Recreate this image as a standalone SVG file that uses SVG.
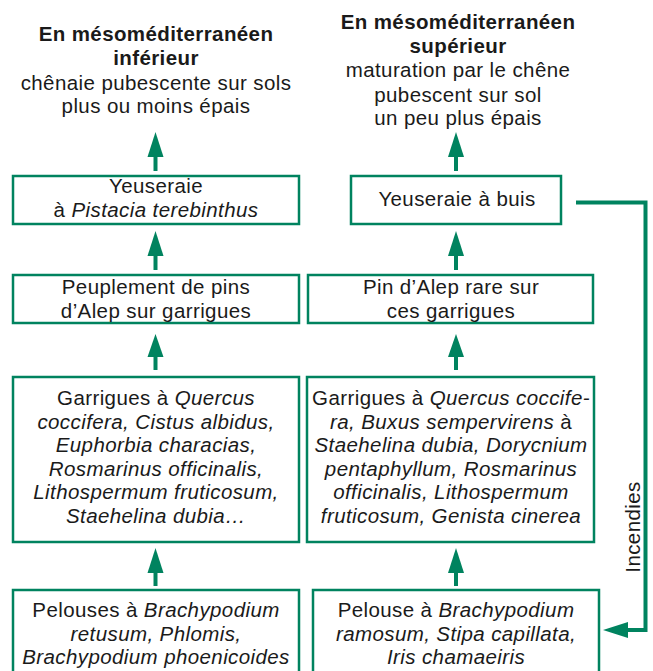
<svg xmlns="http://www.w3.org/2000/svg" width="653" height="671" viewBox="0 0 653 671">
<style>
  text { font-family: "Liberation Sans", Arial, sans-serif; font-size: 20.5px; letter-spacing: 0.4px; fill: #1a1a1a; text-anchor: middle; }
  .b { font-weight: bold; }
  .i { font-style: italic; }
  .box { fill: #ffffff; stroke: #00835f; stroke-width: 2.5; }
  .shaft { stroke: #00835f; stroke-width: 4; fill: none; }
  .head { fill: #00835f; }
  .fire { stroke: #00835f; stroke-width: 4; fill: none; }
</style>
<rect width="653" height="671" fill="#ffffff"/>

<g id="title-left">
  <text x="156" y="41" class="b">En mésoméditerranéen</text>
  <text x="156" y="65" class="b">inférieur</text>
  <text x="156" y="90">chênaie pubescente sur sols</text>
  <text x="156" y="113">plus ou moins épais</text>
</g>
<g id="title-right">
  <text x="458" y="29" class="b">En mésoméditerranéen</text>
  <text x="458" y="53" class="b">supérieur</text>
  <text x="458" y="77">maturation par le chêne</text>
  <text x="458" y="102">pubescent sur sol</text>
  <text x="458" y="125">un peu plus épais</text>
</g>

<g id="L1">
  <rect class="box" x="13" y="176" width="286" height="48"/>
  <text x="156" y="193">Yeuseraie</text>
  <text x="156" y="217">à <tspan class="i">Pistacia terebinthus</tspan></text>
</g>
<g id="R1">
  <rect class="box" x="351" y="176" width="210" height="48"/>
  <text x="457" y="206">Yeuseraie à buis</text>
</g>
<g id="L2">
  <rect class="box" x="13" y="275" width="286" height="48"/>
  <text x="156" y="294">Peuplement de pins</text>
  <text x="156" y="318">d’Alep sur garrigues</text>
</g>
<g id="R2">
  <rect class="box" x="308" y="275" width="285" height="48"/>
  <text x="451" y="294">Pin d’Alep rare sur</text>
  <text x="451" y="318">ces garrigues</text>
</g>
<g id="L3">
  <rect class="box" x="13" y="377" width="286" height="165"/>
  <text x="156" y="405">Garrigues à <tspan class="i">Quercus</tspan></text>
  <text x="156" y="428.6" class="i">coccifera, Cistus albidus,</text>
  <text x="156" y="452.2" class="i">Euphorbia characias,</text>
  <text x="156" y="475.8" class="i">Rosmarinus officinalis,</text>
  <text x="156" y="499.4" class="i">Lithospermum fruticosum,</text>
  <text x="156" y="523" class="i">Staehelina dubia…</text>
</g>
<g id="R3">
  <rect class="box" x="307" y="377" width="287" height="165"/>
  <text x="451" y="405">Garrigues à <tspan class="i">Quercus coccife-</tspan></text>
  <text x="451" y="428.6"><tspan class="i">ra, Buxus sempervirens</tspan> à</text>
  <text x="451" y="452.2" class="i">Staehelina dubia, Dorycnium</text>
  <text x="451" y="475.8" class="i">pentaphyllum, Rosmarinus</text>
  <text x="451" y="499.4" class="i">officinalis, Lithospermum</text>
  <text x="451" y="523" class="i">fruticosum, Genista cinerea</text>
</g>
<g id="L4">
  <rect class="box" x="13" y="590" width="286" height="90"/>
  <text x="156" y="617">Pelouses à <tspan class="i">Brachypodium</tspan></text>
  <text x="156" y="640.5" class="i">retusum, Phlomis,</text>
  <text x="156" y="664" class="i">Brachypodium phoenicoides</text>
</g>
<g id="R4">
  <rect class="box" x="313" y="590" width="286" height="90"/>
  <text x="456" y="617">Pelouse à <tspan class="i">Brachypodium</tspan></text>
  <text x="456" y="640.5" class="i">ramosum, Stipa capillata,</text>
  <text x="456" y="664" class="i">Iris chamaeiris</text>
</g>

<g id="connectors">
  <!-- left column -->
  <line class="shaft" x1="155.5" y1="171" x2="155.5" y2="155"/>
  <polygon class="head" points="155.5,132 147.5,157 163.5,157"/>
  <line class="shaft" x1="155.5" y1="270" x2="155.5" y2="254"/>
  <polygon class="head" points="155.5,231 147.5,256 163.5,256"/>
  <line class="shaft" x1="155.5" y1="370" x2="155.5" y2="354"/>
  <polygon class="head" points="155.5,334 147.5,357 163.5,357"/>
  <line class="shaft" x1="155.5" y1="586" x2="155.5" y2="570"/>
  <polygon class="head" points="155.5,548 147.5,573 163.5,573"/>
  <!-- right column -->
  <line class="shaft" x1="456" y1="171" x2="456" y2="155"/>
  <polygon class="head" points="456,132 448,157 464,157"/>
  <line class="shaft" x1="456" y1="270" x2="456" y2="254"/>
  <polygon class="head" points="456,231 448,256 464,256"/>
  <line class="shaft" x1="456" y1="370" x2="456" y2="354"/>
  <polygon class="head" points="456,334 448,357 464,357"/>
  <line class="shaft" x1="456" y1="586" x2="456" y2="570"/>
  <polygon class="head" points="456,548 448,573 464,573"/>
  <!-- fire loop -->
  <polyline class="fire" points="576,202.5 645.5,202.5 645.5,630 626,630"/>
  <polygon class="head" points="603,630 628,622 628,638"/>
  <text x="0" y="0" transform="translate(640,527) rotate(-90)">Incendies</text>
</g>
</svg>
